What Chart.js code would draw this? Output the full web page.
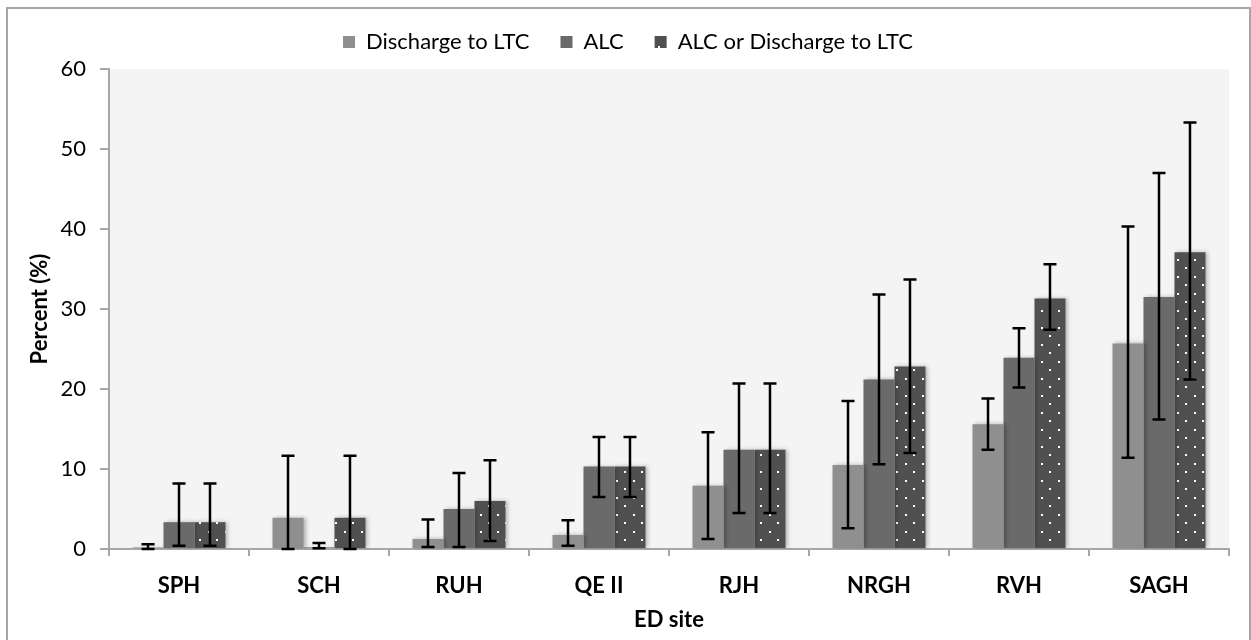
<!DOCTYPE html>
<html>
<head>
<meta charset="utf-8">
<title>ED site outcomes</title>
<script src="https://cdn.jsdelivr.net/npm/chart.js@4.4.0/dist/chart.umd.min.js"></script>
<style>
  html, body { margin: 0; padding: 0; background: #fff; }
  #wrap { width: 1251px; height: 640px; }
</style>
</head>
<body>
<div id="wrap"><canvas id="edChart" width="1251" height="640"></canvas></div>
<script>
const sites = ['SPH', 'SCH', 'RUH', 'QE II', 'RJH', 'NRGH', 'RVH', 'SAGH'];
const yTicks = [0, 10, 20, 30, 40, 50, 60];

// Discharge to LTC
const ltc     = [0.2, 3.9, 1.25, 1.75, 7.9, 10.5, 15.6, 25.7];
const ltcLow  = [0, 0, 0.25, 0.4, 1.25, 2.6, 12.4, 11.4];
const ltcHigh = [0.6, 11.65, 3.7, 3.6, 14.6, 18.5, 18.8, 40.3];

// ALC
const alc     = [3.35, 0.2, 5.0, 10.3, 12.4, 21.2, 23.9, 31.5];
const alcLow  = [0.4, 0.1, 0.25, 6.5, 4.5, 10.6, 20.2, 16.2];
const alcHigh = [8.2, 0.75, 9.5, 14.0, 20.7, 31.8, 27.6, 47.0];

// ALC or Discharge to LTC
const either     = [3.35, 3.9, 6.0, 10.3, 12.4, 22.8, 31.3, 37.1];
const eitherLow  = [0.4, 0, 1.0, 6.5, 4.5, 12.0, 27.4, 21.2];
const eitherHigh = [8.2, 11.65, 11.1, 14.0, 20.7, 33.7, 35.6, 53.3];

const FONT = 'Lato, "Open Sans", sans-serif';

function dotPattern() {
  const c = document.createElement('canvas');
  c.width = 17; c.height = 17;
  const g = c.getContext('2d');
  g.fillStyle = '#505050';
  g.fillRect(0, 0, 17, 17);
  g.fillStyle = '#ffffff';
  g.fillRect(4, 4, 2, 2);
  g.fillRect(12, 12, 2, 2);
  return g.createPattern(c, 'repeat');
}

// white page, grey frame and shaded plot area
const frame = {
  id: 'frame',
  beforeDraw(chart) {
    const { ctx, chartArea: a } = chart;
    ctx.save();
    ctx.fillStyle = '#ffffff';
    ctx.fillRect(0, 0, chart.width, chart.height);
    ctx.strokeStyle = '#a6a6a6';
    ctx.lineWidth = 2;
    ctx.strokeRect(7, 8, 1243, 660);
    ctx.fillStyle = '#f4f4f4';
    ctx.fillRect(a.left, a.top, a.right - a.left, a.bottom - a.top);
    ctx.restore();
  }
};

// soft drop shadow behind the bars
const barShadow = {
  id: 'barShadow',
  beforeDatasetsDraw(chart) {
    const ctx = chart.ctx;
    ctx.save();
    ctx.shadowColor = 'rgba(0,0,0,0.28)';
    ctx.shadowBlur = 4;
    ctx.shadowOffsetX = 2;
    ctx.shadowOffsetY = 0;
  },
  afterDatasetsDraw(chart) {
    chart.ctx.restore();
  }
};

// confidence interval whiskers
const errorBars = {
  id: 'errorBars',
  afterDatasetsDraw(chart) {
    const ctx = chart.ctx;
    const y = chart.scales.y;
    ctx.save();
    ctx.strokeStyle = '#000';
    ctx.lineWidth = 2.5;
    chart.data.datasets.forEach((ds, i) => {
      chart.getDatasetMeta(i).data.forEach((bar, j) => {
        const x = bar.x;
        const top = y.getPixelForValue(ds.errHigh[j]);
        const bot = y.getPixelForValue(ds.errLow[j]);
        ctx.beginPath();
        ctx.moveTo(x, top); ctx.lineTo(x, bot);
        ctx.moveTo(x - 6.5, top); ctx.lineTo(x + 6.5, top);
        ctx.moveTo(x - 6.5, bot); ctx.lineTo(x + 6.5, bot);
        ctx.stroke();
      });
    });
    ctx.restore();
  }
};

const data = {
  labels: sites,
  datasets: [
    { label: 'Discharge to LTC', data: ltc, errLow: ltcLow, errHigh: ltcHigh, backgroundColor: '#8f8f8f' },
    { label: 'ALC', data: alc, errLow: alcLow, errHigh: alcHigh, backgroundColor: '#6a6a6a' },
    { label: 'ALC or Discharge to LTC', data: either, errLow: eitherLow, errHigh: eitherHigh, backgroundColor: dotPattern() }
  ]
};

new Chart(document.getElementById('edChart'), {
  type: 'bar',
  data: data,
  plugins: [frame, barShadow, errorBars],
  options: {
    responsive: false,
    animation: false,
    devicePixelRatio: 1,
    categoryPercentage: 0.664,
    barPercentage: 1.0,
    layout: { padding: { top: 0, left: 27, right: 22, bottom: 0 } },
    plugins: {
      tooltip: { enabled: false },
      legend: {
        position: 'top',
        labels: {
          boxWidth: 12, boxHeight: 12, padding: 31, color: '#000',
          font: { family: FONT, size: 22 }
        }
      },
      // spacer between legend and plot
      title: { display: true, text: '', weight: 500, font: { size: 1, lineHeight: 1 }, padding: { top: 0, bottom: 5 } }
    },
    scales: {
      x: {
        afterFit: s => { s.height = 91; },
        grid: { drawOnChartArea: false, drawTicks: true, tickLength: 7, color: '#a6a6a6', lineWidth: 2 },
        border: { color: '#a6a6a6', width: 2 },
        ticks: { color: '#000', padding: 17, font: { family: FONT, size: 22, weight: 'bold' } },
        title: { display: true, text: 'ED site', color: '#000', padding: { top: 0, bottom: 7 },
                 font: { family: FONT, size: 22, weight: 'bold' } }
      },
      y: {
        min: 0, max: 60,
        afterFit: s => { s.width = 82; },
        afterBuildTicks: s => { s.ticks = yTicks.map(v => ({ value: v })); },
        grid: { drawOnChartArea: false, drawTicks: true, tickLength: 9, color: '#a6a6a6', lineWidth: 2 },
        border: { color: '#a6a6a6', width: 2 },
        ticks: { color: '#000', padding: 14, font: { family: FONT, size: 22 } },
        title: { display: true, text: 'Percent (%)', color: '#000', padding: { top: 0, bottom: 0 },
                 font: { family: FONT, size: 22, weight: 'bold' } }
      }
    }
  }
});
</script>
</body>
</html>
